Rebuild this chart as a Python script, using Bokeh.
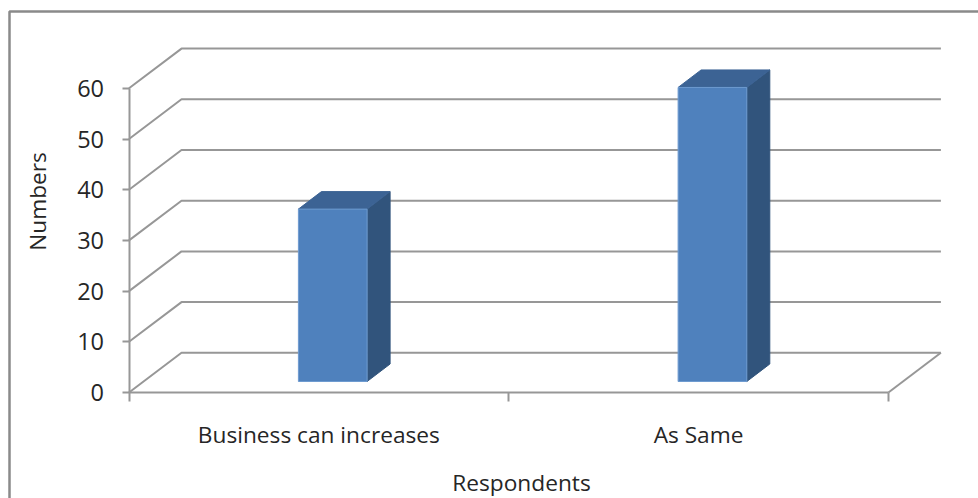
from bokeh.plotting import figure
from bokeh.models import Range1d, LinearAxis, FixedTicker
from bokeh.core.properties import value
from bokeh.embed import file_html
from bokeh.resources import INLINE

categories = ["Business can increases", "As Same"]
values = [34, 58]
y_ticks = [0, 10, 20, 30, 40, 50, 60]
x_title = "Respondents"
y_title = "Numbers"

FONT = "Open Sans"
TXT = "#262626"
GRID = "#979797"
EDGE = "#8a8a8a"
PX_X = 379.7   # pixels per category
PX_Y = 5.07    # pixels per value unit
W, H = 978, 498
X0, Y0 = 128.5, 392    # picture position of the axis origin

p = figure(width=W, height=H, output_backend="svg", toolbar_location=None,
           x_range=Range1d(-X0 / PX_X, (W - X0) / PX_X),
           y_range=Range1d((Y0 - H) / PX_Y, Y0 / PX_Y),
           x_axis_location=None, y_axis_location=None,
           min_border=0, outline_line_color=None,
           background_fill_color="white", border_fill_color="white")
p.grid.visible = False

# axes
yax = LinearAxis(ticker=FixedTicker(ticks=y_ticks), bounds=(0, 60), fixed_location=0)
yax.major_tick_out, yax.major_tick_in = 7, 0
yax.minor_tick_line_color = None
yax.axis_line_color = GRID; yax.axis_line_width = 2
yax.major_tick_line_color = GRID; yax.major_tick_line_width = 2
yax.major_label_text_font = FONT; yax.major_label_text_font_size = "23.5px"
yax.major_label_text_color = TXT; yax.major_label_standoff = 18
p.add_layout(yax, "left")

xax = LinearAxis(ticker=FixedTicker(ticks=[0.5, 1.5], minor_ticks=[0, 1, 2]), bounds=(0, 2), fixed_location=0)
xax.major_label_overrides = {0.5: categories[0], 1.5: categories[1]}
xax.major_tick_line_color = None
xax.major_tick_out = 0; xax.major_tick_in = 0
xax.minor_tick_out = 9; xax.minor_tick_in = 0
xax.minor_tick_line_color = GRID; xax.minor_tick_line_width = 2
xax.axis_line_color = GRID; xax.axis_line_width = 2
xax.major_label_text_font = FONT; xax.major_label_text_font_size = "22.7px"
xax.major_label_text_color = TXT; xax.major_label_standoff = 17
p.add_layout(xax, "below")

# 3-D offsets
DX, DY = 52.5 / PX_X, 39.7 / PX_Y         # wall depth
BAR_W = 68.7 / PX_X
BAR_SHIFT = 13.9 / PX_X
BAR_LIFT = 11 / PX_Y
BDX, BDY = 23 / PX_X, 17.5 / PX_Y         # bar depth

# wall gridlines
xs, ys = [], []
for t in y_ticks:
    xs.append([0, DX, 2 + DX]); ys.append([t, t + DY, t + DY])
p.multi_line(xs, ys, line_color=GRID, line_width=2)
p.line([2, 2 + DX], [0, DY], line_color=GRID, line_width=2)

# bars
for i, v in enumerate(values):
    x0 = i + 0.5 + BAR_SHIFT - BAR_W / 2
    x1 = x0 + BAR_W
    y0, y1 = BAR_LIFT, v + BAR_LIFT
    p.patch([x1, x1 + BDX, x1 + BDX, x1], [y0, y0 + BDY, y1 + BDY, y1],
            fill_color="#31547c", line_color="#31547c", line_width=1)
    p.patch([x0, x0 + BDX, x1 + BDX, x1], [y1, y1 + BDY, y1 + BDY, y1],
            fill_color="#3c6394", line_color="#3c6394", line_width=1)
    p.quad(left=x0, right=x1, bottom=y0, top=y1,
           fill_color="#4f81bd", line_color="#6e9bd0", line_width=1)

# outer border: left and top edges run off the picture
bx = (9 - X0) / PX_X
by = (Y0 - 11) / PX_Y
p.line([bx, bx, (W - X0) / PX_X], [(Y0 - H) / PX_Y, by, by], line_color=EDGE, line_width=2.5)

# axis titles
p.text([(521 - X0) / PX_X], [(Y0 - 481.5) / PX_Y], text=[x_title], text_font=value(FONT), text_font_size="22.7px",
       text_color=TXT, text_align="center", text_baseline="middle")
p.text([(37 - X0) / PX_X], [(Y0 - 201) / PX_Y], text=[y_title], angle=90, angle_units="deg",
       text_font=value(FONT), text_font_size="22.7px", text_color=TXT,
       text_align="center", text_baseline="middle")

open("out.html", "w").write(file_html(p, INLINE))
